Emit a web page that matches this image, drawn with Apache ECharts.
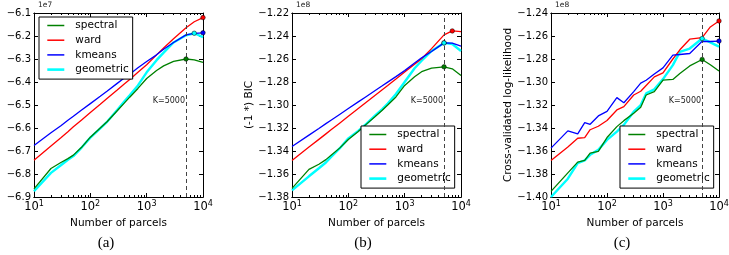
<!DOCTYPE html>
<html>
<head>
<meta charset="utf-8">
<script src="https://cdn.jsdelivr.net/npm/echarts@6/dist/echarts.min.js"></script>
<style>
  html, body { margin: 0; padding: 0; background: #fff; }
  #chart { width: 729px; height: 255px; }
</style>
</head>
<body>
<div id="chart"></div>
<script>
const parcels = [10, 20, 30, 40, 50, 70, 100, 150, 200, 300, 400, 500, 700, 1000, 1500, 2000, 3000, 5000, 7000, 10000];
const methods = ['spectral', 'ward', 'kmeans', 'geometric'];
const decadeTicks = [10, 100, 1000, 10000];
const bestK = 5000;

// (a) log-likelihood, in units of 1e7
const spectralLL = [-6.865, -6.776, -6.750, -6.733, -6.718, -6.684, -6.640, -6.600, -6.572, -6.525, -6.492, -6.466, -6.428, -6.385, -6.350, -6.330, -6.310, -6.300, -6.304, -6.315];
const wardLL = [-6.740, -6.678, -6.642, -6.616, -6.595, -6.565, -6.533, -6.497, -6.471, -6.435, -6.409, -6.389, -6.358, -6.325, -6.282, -6.252, -6.212, -6.164, -6.138, -6.120];
const kmeansLL = [-6.676, -6.621, -6.590, -6.566, -6.549, -6.522, -6.494, -6.462, -6.439, -6.406, -6.383, -6.366, -6.338, -6.311, -6.282, -6.258, -6.228, -6.195, -6.189, -6.186];
const geometricLL = [-6.875, -6.795, -6.762, -6.738, -6.722, -6.685, -6.642, -6.602, -6.572, -6.522, -6.485, -6.458, -6.415, -6.358, -6.305, -6.272, -6.228, -6.197, -6.188, -6.205];

// (b) (-1 *) BIC, in units of 1e8
const spectralBIC = [-1.3725, -1.3560, -1.3515, -1.3475, -1.3435, -1.3375, -1.3300, -1.3230, -1.3175, -1.3100, -1.3045, -1.3000, -1.2930, -1.2830, -1.2755, -1.2710, -1.2680, -1.2668, -1.2685, -1.2743];
const wardBIC = [-1.3482, -1.3366, -1.3299, -1.3251, -1.3214, -1.3158, -1.3098, -1.3030, -1.2982, -1.2915, -1.2867, -1.2830, -1.2774, -1.2714, -1.2646, -1.2598, -1.2510, -1.2390, -1.2356, -1.2362];
const kmeansBIC = [-1.3361, -1.3262, -1.3204, -1.3162, -1.3130, -1.3082, -1.3031, -1.2973, -1.2932, -1.2874, -1.2833, -1.2801, -1.2753, -1.2701, -1.2635, -1.2590, -1.2535, -1.2460, -1.2462, -1.2488];
const geometricBIC = [-1.3742, -1.3620, -1.3550, -1.3500, -1.3450, -1.3378, -1.3290, -1.3225, -1.3172, -1.3090, -1.3035, -1.2988, -1.2905, -1.2800, -1.2680, -1.2615, -1.2530, -1.2460, -1.2470, -1.2530];

// (c) cross-validated log-likelihood, in units of 1e8
const spectralCV = [-1.3951, -1.3790, -1.3697, -1.3682, -1.3619, -1.3604, -1.3483, -1.3388, -1.3336, -1.3272, -1.3220, -1.3113, -1.3084, -1.2983, -1.2978, -1.2926, -1.2860, -1.2804, -1.2850, -1.2905];
const wardCV = [-1.3682, -1.3565, -1.3489, -1.3483, -1.3415, -1.3385, -1.3335, -1.3243, -1.3214, -1.3113, -1.3080, -1.3030, -1.2955, -1.2920, -1.2800, -1.2720, -1.2628, -1.2614, -1.2521, -1.2469];
const kmeansCV = [-1.3575, -1.3425, -1.3451, -1.3353, -1.3368, -1.3295, -1.3255, -1.3136, -1.3180, -1.3084, -1.3010, -1.2985, -1.2931, -1.2877, -1.2767, -1.2761, -1.2752, -1.2646, -1.2648, -1.2644];
const geometricCV = [-1.4000, -1.3841, -1.3705, -1.3682, -1.3633, -1.3590, -1.3503, -1.3431, -1.3373, -1.3258, -1.3200, -1.3099, -1.3064, -1.2975, -1.2853, -1.2738, -1.2709, -1.2622, -1.2655, -1.2692];

const colors = { spectral: '#008000', ward: '#ff0000', kmeans: '#0000ff', geometric: '#00ffff' };
const widths = { spectral: 1.3, ward: 1.3, kmeans: 1.3, geometric: 2.4 };
const font = 'DejaVu Sans';

const minorTicks = [];
[10, 100, 1000].forEach(d => { for (let k = 2; k <= 9; k++) minorTicks.push(d * k); });

const panels = [
  { left: 34, width: 169, yName: 'Log-likelihood', nameGap: 41, min: -6.9, max: -6.1, step: 0.1, digits: 1,
    expo: '1e7', tag: '(a)', tagX: 106, lines: [spectralLL, wardLL, kmeansLL, geometricLL], legend: { left: 39, top: 17 } },
  { left: 292, width: 169, yName: '(-1 *) BIC', nameGap: 35, min: -1.38, max: -1.22, step: 0.02, digits: 2,
    expo: '1e8', tag: '(b)', tagX: 363, lines: [spectralBIC, wardBIC, kmeansBIC, geometricBIC], legend: { left: 361, top: 126 } },
  { left: 551, width: 168, yName: 'Cross-validated log-likelihood', nameGap: 37, min: -1.40, max: -1.24, step: 0.02, digits: 2,
    expo: '1e8', tag: '(c)', tagX: 622, lines: [spectralCV, wardCV, kmeansCV, geometricCV], legend: { left: 620, top: 126 } }
];

const blackLine = { color: '#000', width: 1 };
const tick = (len, vals) => ({ show: true, inside: true, length: len, customValues: vals, lineStyle: blackLine });

const grid = [], xAxis = [], yAxis = [], series = [], legend = [];

panels.forEach((p, g) => {
  // fixed plot boxes, labels may run off the page like in the original figure
  grid.push({ left: p.left, top: 13, width: p.width, height: 184, outerBoundsMode: 'none', containLabel: false });

  // main log axis carries the data, the others only draw ticks (in log10 units)
  xAxis.push({
    type: 'log', logBase: 10, min: 10, max: 10000, gridIndex: g, position: 'bottom',
    axisLine: { show: true, lineStyle: blackLine },
    axisTick: { show: true, inside: true, length: 4, lineStyle: blackLine },
    splitLine: { show: false },
    axisLabel: {
      margin: 3,
      formatter: v => '{b|10}{e|' + Math.round(Math.log10(v)) + '}',
      rich: {
        b: { fontSize: 11.5, fontFamily: font, color: '#000', lineHeight: 14 },
        e: { fontSize: 8, fontFamily: font, color: '#000', lineHeight: 3, verticalAlign: 'top' }
      }
    },
    name: 'Number of parcels', nameLocation: 'middle', nameGap: 17,
    nameTextStyle: { fontSize: 10.5, fontFamily: font, color: '#000' }
  });
  const logTicks = (pos, len, vals) => ({
    type: 'value', min: 1, max: 4, gridIndex: g, position: pos,
    axisLine: { show: true, lineStyle: blackLine }, splitLine: { show: false },
    axisLabel: { show: false }, axisTick: tick(len, vals.map(v => Math.log10(v)))
  });
  xAxis.push(logTicks('bottom', 2, minorTicks));
  xAxis.push(logTicks('top', 4, decadeTicks));
  xAxis.push(logTicks('top', 2, minorTicks));

  const yBase = {
    type: 'value', gridIndex: g, min: p.min, max: p.max, interval: p.step,
    axisLine: { show: true, lineStyle: blackLine }, splitLine: { show: false },
    axisTick: { show: true, inside: true, length: 4, lineStyle: blackLine }
  };
  yAxis.push(Object.assign({}, yBase, {
    position: 'left',
    axisLabel: {
      margin: 3, fontSize: 10, fontFamily: font, color: '#000',
      formatter: v => v.toFixed(p.digits).replace('-', '\u2212')
    },
    name: p.yName, nameLocation: 'middle', nameGap: p.nameGap,
    nameTextStyle: { fontSize: 10.5, fontFamily: font, color: '#000' }
  }));
  yAxis.push(Object.assign({}, yBase, { position: 'right', axisLabel: { show: false } }));

  p.lines.forEach((vals, m) => {
    const name = methods[m];
    series.push({
      type: 'line', name, xAxisIndex: 4 * g, yAxisIndex: 2 * g,
      data: parcels.map((k, i) => [k, vals[i]]),
      symbol: 'none', z: name === 'geometric' ? 2 : 3,
      lineStyle: { color: colors[name], width: widths[name] },
      itemStyle: { color: colors[name] },
      markLine: m === 0 ? {
        silent: true, symbol: 'none', label: { show: false },
        lineStyle: { color: '#444', width: 1, type: [4, 3] },
        data: [{ xAxis: bestK }]
      } : undefined
    });
    const best = vals.indexOf(Math.max(...vals));
    series.push({
      type: 'scatter', name: name + ' best', xAxisIndex: 4 * g, yAxisIndex: 2 * g,
      data: [[parcels[best], vals[best]]], symbolSize: 4.5, z: 5,
      itemStyle: { color: colors[name], borderColor: '#000', borderWidth: 0.5, opacity: 1 }
    });
  });

  legend.push({
    left: p.legend.left, top: p.legend.top, orient: 'vertical', selectedMode: false,
    data: methods.map(n => ({ name: n, lineStyle: { width: widths[n] + 0.2, color: colors[n] } })),
    itemWidth: 17, itemHeight: 12, itemGap: 3.7, padding: [3, 4, 4, 7],
    borderColor: '#000', borderWidth: 1, borderRadius: 0, backgroundColor: '#fff',
    itemStyle: { opacity: 0 },
    textStyle: { fontSize: 10.5, fontFamily: font, color: '#000', padding: [0, 0, 0, 6] }
  });
});

const chart = echarts.init(document.getElementById('chart'), null, { renderer: 'canvas' });
chart.setOption({ animation: false, backgroundColor: '#fff', grid, xAxis, yAxis, series, legend });

const graphic = [];
panels.forEach((p, g) => {
  const kx = chart.convertToPixel({ xAxisIndex: 4 * g }, bestK);
  graphic.push({ type: 'text', x: kx - 1, y: 101, silent: true,
    style: { text: 'K=5000', fontSize: 8, fontFamily: font, fill: '#222', align: 'right', verticalAlign: 'middle' } });
  graphic.push({ type: 'text', x: p.left + 4, y: 5, silent: true,
    style: { text: p.expo, fontSize: 7.5, fontFamily: font, fill: '#222', align: 'left', verticalAlign: 'middle' } });
  graphic.push({ type: 'text', x: p.tagX, y: 243, silent: true,
    style: { text: p.tag, fontSize: 15, fontFamily: 'Liberation Serif', fill: '#000', align: 'center', verticalAlign: 'middle' } });
});
chart.setOption({ graphic });
</script>
</body>
</html>
